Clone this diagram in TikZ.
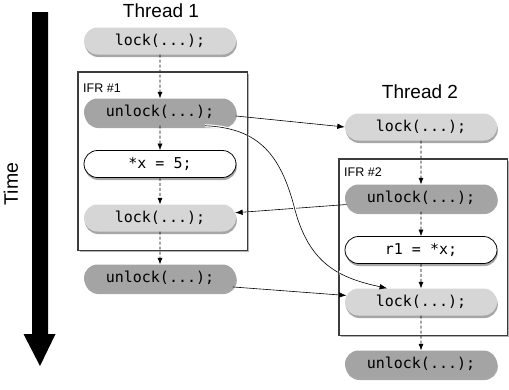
\documentclass[tikz,border=0pt]{standalone}
\usepackage{fontspec}
\setmainfont{Liberation Sans}
\setmonofont{DejaVu Sans Mono}
\usetikzlibrary{shapes.misc,shadows,arrows.meta,calc}
\definecolor{lockgray}{RGB}{214,214,214}
\definecolor{unlockgray}{RGB}{164,164,164}
\definecolor{boxline}{RGB}{60,60,60}
\begin{document}
\begin{tikzpicture}[x=1pt,y=-1pt,
  softshadow/.style={drop shadow={shadow xshift=0.8pt,shadow yshift=-2.5pt,opacity=0.35,fill=black}},
  codebox/.style={rounded rectangle, minimum width=152pt, minimum height=27pt, inner sep=0pt,
    font=\fontsize{15}{16}\ttfamily, softshadow},
  lockbox/.style={codebox, fill=lockgray},
  unlockbox/.style={codebox, fill=unlockgray},
  plainbox/.style={codebox, fill=white, draw=black, line width=0.8pt},
  ifrbox/.style={rectangle, draw=boxline, fill=white, line width=0.7pt, inner sep=0pt,
    drop shadow={shadow xshift=2pt,shadow yshift=-2pt,opacity=0.3,fill=black}},
  ifrlabel/.style={anchor=west, inner sep=0pt, font=\fontsize{12.5}{14}\selectfont},
  threadlabel/.style={inner sep=0pt, font=\fontsize{19}{21}\selectfont},
  flow/.style={dash pattern=on 3pt off 2pt, -{Latex[length=6.5pt,width=5pt]}, line width=0.6pt},
  sync/.style={-{Latex[length=7.5pt,width=5.5pt]}, line width=0.6pt}
]
\useasboundingbox (0,0) rectangle (509,389);

% time arrow
\fill[black] (32,12) -- (48,12) -- (48,334) -- (55.5,334) -- (40,366) -- (23.5,334) -- (32,334) -- cycle;
\node[rotate=90, inner sep=0pt, font=\fontsize{19.5}{21}\selectfont] (time) at (11,184) {Time};

% IFR boxes
\node[ifrbox, minimum width=169pt, minimum height=178pt] (ifr1) at (162.5,161) {};
\node[ifrbox, minimum width=168pt, minimum height=176pt] (ifr2) at (423,247) {};
\node[ifrlabel] (ifr1lab) at (83,88) {IFR \#1};
\node[ifrlabel] (ifr2lab) at (344,172) {IFR \#2};

% thread labels
\node[threadlabel] (t1) at (161,11) {Thread 1};
\node[threadlabel] (t2) at (420,92) {Thread 2};

% thread 1
\node[lockbox] (l1) at (160,41) {lock(...);};
\node[unlockbox] (u1) at (160,112) {unlock(...);};
\node[plainbox] (x5) at (160,164) {*x = 5;};
\node[lockbox] (l1b) at (160,218) {lock(...);};
\node[unlockbox] (u1b) at (160,278) {unlock(...);};

% thread 2
\node[lockbox] (l2) at (421,127) {lock(...);};
\node[unlockbox] (u2) at (421,198) {unlock(...);};
\node[plainbox] (r1) at (421,250) {r1 = *x;};
\node[lockbox] (l2b) at (421,302) {lock(...);};
\node[unlockbox] (u2b) at (421,364) {unlock(...);};

% program order
\draw[flow] (l1) -- (u1);
\draw[flow] (u1) -- (x5);
\draw[flow] (x5) -- (l1b);
\draw[flow] (l1b) -- (u1b);
\draw[flow] (l2) -- (u2);
\draw[flow] (u2) -- (r1);
\draw[flow] (r1) -- (l2b);
\draw[flow] (l2b) -- (u2b);

% synchronisation
\draw[sync] (u1.-3) -- (l2.180);
\draw[sync] (u2.185) -- (l1b.4);
\draw[sync] (u1b.-7) -- (l2b.175);
\draw[white, line width=3pt] (u1.-17) .. controls (255,128) and (280,150) .. (295,210)
  .. controls (310,265) and (340,278) .. (384,287);
\draw[sync] (u1.-17) .. controls (255,128) and (280,150) .. (295,210)
  .. controls (310,265) and (340,278) .. (l2b.158);

% restore box borders over the halo
\draw[boxline, line width=0.7pt] (ifr1.north west) rectangle (ifr1.south east);
\draw[boxline, line width=0.7pt] (ifr2.north west) rectangle (ifr2.south east);
\end{tikzpicture}
\end{document}
